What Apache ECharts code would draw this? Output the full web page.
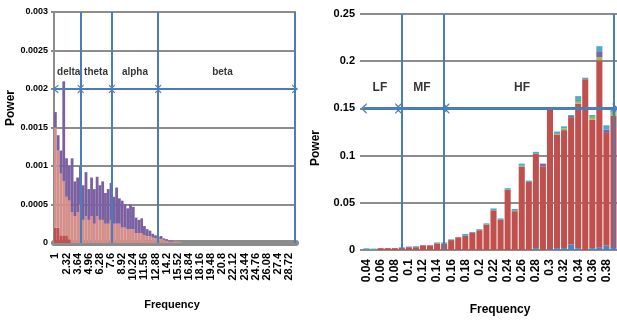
<!DOCTYPE html>
<html>
<head>
<meta charset="utf-8">
<script src="https://cdn.jsdelivr.net/npm/echarts@6/dist/echarts.min.js"></script>
<style>
  html, body { margin: 0; padding: 0; background: #fff; }
  #chart { width: 617px; height: 320px; }
</style>
</head>
<body>
<div id="chart"></div>
<script>
// left chart: EEG power spectrum (stacked, many epochs)
const freqLeft = [
  1, 1.33, 1.66, 1.99, 2.32, 2.65, 2.98, 3.31, 3.64, 3.97, 4.3, 4.63,
  4.96, 5.29, 5.62, 5.95, 6.28, 6.61, 6.94, 7.27, 7.6, 7.93, 8.26, 8.59,
  8.92, 9.25, 9.58, 9.91, 10.24, 10.57, 10.9, 11.23, 11.56, 11.89, 12.22, 12.55,
  12.88, 13.21, 13.54, 13.87, 14.2, 14.53, 14.86, 15.19, 15.52, 15.85, 16.18, 16.51,
  16.84, 17.17, 17.5, 17.83, 18.16, 18.49, 18.82, 19.15, 19.48, 19.81, 20.14, 20.47,
  20.8, 21.13, 21.46, 21.79, 22.12, 22.45, 22.78, 23.11, 23.44, 23.77, 24.1, 24.43,
  24.76, 25.09, 25.42, 25.75, 26.08, 26.41, 26.74, 27.07, 27.4, 27.73, 28.06, 28.39,
  28.72, 29.05, 29.38
]
const redLeft = [0.0002, 0.0002, 0.0001, 0.0001, 0.0001, 0.00005]
const pinkLeft = [
  0.0013, 0.0010, 0.0008, 0.0007, 0.0005, 0.0005, 0.0004, 0.00035, 0.0004, 0.0005,
  0.0003, 0.00035, 0.0003, 0.00035, 0.00025, 0.00035, 0.0003, 0.0003, 0.00025, 0.00025,
  0.0003, 0.00025, 0.00025, 0.00025, 0.0002, 0.0002, 0.00018, 0.00018, 0.00018, 0.00013,
  0.00013, 0.00013, 0.0001, 0.00009, 0.00009, 0.00007, 0.00006, 0.00005, 0.00005, 0.00004,
  0.00003, 0.00002, 0.00002, 0.00002, 0.00002, 0.00001
]
const purpleLeft = [
  0.0002, 0.0002, 0.0003, 0.0013, 0.0005, 0.00045, 0.0007, 0.00045, 0.00045, 0.0005,
  0.00045, 0.00057, 0.0004, 0.0005, 0.00045, 0.00051, 0.00045, 0.0005, 0.0004, 0.00045,
  0.00048, 0.00035, 0.00047, 0.00033, 0.00035, 0.0003, 0.00027, 0.00032, 0.00029, 0.0002,
  0.00017, 0.00019, 0.00012, 0.00009, 0.00007, 0.00005, 0.00004, 0.00003, 0.00004, 0.00002,
  0.00002, 0.00001, 0.00001
]
const bandsLeft = ['delta', 'theta', 'alpha', 'beta']
const bandEdgesLeft = [1, 4, 7.7, 13.2, 29.45]
const bandLabelXLeft = [2.58, 5.82, 10.44, 20.82]

// right chart: HRV power spectrum
const freqRight = [
  0.04, 0.05, 0.06, 0.07, 0.08, 0.09, 0.1, 0.11, 0.12, 0.13, 0.14, 0.15,
  0.16, 0.17, 0.18, 0.19, 0.2, 0.21, 0.22, 0.23, 0.24, 0.25, 0.26, 0.27,
  0.28, 0.29, 0.3, 0.31, 0.32, 0.33, 0.34, 0.35, 0.36, 0.37, 0.38, 0.39
]
const blueRight = [
  0, 0, 0, 0, 0, 0, 0, 0, 0, 0, 0, 0, 0, 0, 0, 0, 0, 0, 0, 0, 0, 0, 0, 0,
  0.002, 0, 0.001, 0.002, 0.002, 0.006, 0.002, 0, 0.002, 0.003, 0.005, 0.002
]
const redRight = [
  0.0005, 0, 0.002, 0.002, 0.002, 0.0025, 0.003, 0.003, 0.005, 0.005, 0.007, 0.007,
  0.0105, 0.0135, 0.015, 0.018, 0.021, 0.027, 0.042, 0.032, 0.064, 0.041, 0.088, 0.072,
  0.1, 0.0885, 0.148, 0.12, 0.125, 0.134, 0.153, 0.181, 0.136, 0.198, 0.119, 0.14
]
const greenRight = [
  0, 0, 0, 0, 0, 0, 0, 0, 0, 0, 0, 0, 0, 0, 0, 0, 0, 0, 0, 0, 0, 0, 0.001, 0,
  0, 0, 0, 0.001, 0.002, 0, 0.003, 0, 0.003, 0.0032, 0, 0.004
]
const purpleRight = [
  0, 0, 0, 0, 0, 0, 0, 0, 0, 0, 0, 0, 0, 0, 0, 0, 0, 0, 0, 0, 0, 0.001, 0.0005, 0,
  0, 0.003, 0.0015, 0, 0, 0.002, 0.001, 0, 0, 0.0064, 0.0035, 0.001
]
const cyanRight = [
  0.0013, 0.0015, 0, 0, 0, 0.0005, 0.0007, 0.001, 0, 0, 0.001, 0.001,
  0.0008, 0, 0.002, 0.001, 0.001, 0.0012, 0.002, 0.0015, 0.0015, 0.0015, 0.002, 0.0015,
  0.002, 0, 0, 0.0025, 0.002, 0.001, 0.004, 0.0015, 0.002, 0.0053, 0.0046, 0.0046
]
const bandsRight = ['LF', 'MF', 'HF']
const bandEdgesRight = [0.036, 0.085, 0.153, 0.393]
const bandLabelXRight = [0.059, 0.1186, 0.2603]

const FONT = '"Liberation Sans", Arial, sans-serif'
const GRAY = '#8c8c8c'
const BLUE = '#4a7ebb'
const CHEVRON = 'path://M0,10L5,0L10,10L8.4,10L5,3.2L1.6,10Z'

function bandMarks (edges, y, size, width) {
  let data = []
  for (let i = 1; i < edges.length; i++) {
    data.push({xAxis: edges[i]})
  }
  for (let i = 0; i < edges.length - 1; i++) {
    data.push([
      {coord: [edges[i], y], symbol: CHEVRON, symbolSize: size, lineStyle: {width: width}},
      {coord: [edges[i + 1], y], symbol: CHEVRON, symbolSize: size}
    ])
  }
  return data
}

function bandLabels (names, xs, y) {
  return names.map((n, i) => ({name: n, value: [xs[i], y]}))
}

let myChart = echarts.init(document.getElementById('chart'), null, {renderer: 'canvas'})
myChart.setOption({
  animation: false,
  textStyle: {fontFamily: FONT},
  grid: [
    {left: 54, top: 12, width: 242, height: 231},
    {left: 363, top: 14, right: 0, height: 236}
  ],
  xAxis: [
    {
      type: 'category',
      gridIndex: 0,
      data: freqLeft,
      offset: 3,
      axisLine: {lineStyle: {color: GRAY, width: 6}},
      axisTick: {show: false},
      axisLabel: {rotate: 90, interval: 3, margin: 7, fontSize: 11, fontWeight: 'bold', color: '#000', fontFamily: FONT}
    },
    {type: 'value', gridIndex: 0, min: 0.835, max: 29.545, show: false},
    {
      type: 'category',
      gridIndex: 1,
      data: freqRight,
      axisLine: {lineStyle: {color: GRAY, width: 2}},
      axisTick: {show: false},
      axisLabel: {rotate: 90, interval: 1, margin: 9, fontSize: 12, fontWeight: 'bold', color: '#000', fontFamily: FONT}
    },
    {type: 'value', gridIndex: 1, min: 0.035, max: 0.395, show: false}
  ],
  yAxis: [
    {
      type: 'value',
      gridIndex: 0,
      min: 0,
      max: 0.003,
      interval: 0.0005,
      axisLine: {show: true, lineStyle: {color: GRAY, width: 2}},
      axisTick: {show: true, length: 3, lineStyle: {color: GRAY, width: 2}},
      splitLine: {lineStyle: {color: GRAY, width: 2}},
      axisLabel: {margin: 6, fontSize: 9, fontWeight: 'bold', color: '#000', fontFamily: FONT}
    },
    {
      type: 'value',
      gridIndex: 1,
      min: 0,
      max: 0.25,
      interval: 0.05,
      axisLine: {show: false},
      axisTick: {show: true, length: 3, lineStyle: {color: GRAY, width: 2}},
      splitLine: {lineStyle: {color: GRAY, width: 2}},
      axisLabel: {margin: 8, fontSize: 11, fontWeight: 'bold', color: '#000', fontFamily: FONT}
    }
  ],
  graphic: [
    {type: 'text', x: 11, y: 108, rotation: Math.PI / 2, style: {text: 'Power', fill: '#000', font: 'bold 12px ' + FONT, align: 'center', verticalAlign: 'middle'}},
    {type: 'text', x: 316, y: 148, rotation: Math.PI / 2, style: {text: 'Power', fill: '#000', font: 'bold 12px ' + FONT, align: 'center', verticalAlign: 'middle'}},
    {type: 'text', x: 172, y: 305, style: {text: 'Frequency', fill: '#000', font: 'bold 11px ' + FONT, align: 'center', verticalAlign: 'middle'}},
    {type: 'text', x: 500, y: 310, style: {text: 'Frequency', fill: '#000', font: 'bold 12px ' + FONT, align: 'center', verticalAlign: 'middle'}}
  ],
  series: [
    {name: 'red', type: 'bar', stack: 'l', xAxisIndex: 0, yAxisIndex: 0, barCategoryGap: 0, itemStyle: {color: '#c0504d'}, data: redLeft},
    {name: 'pink', type: 'bar', stack: 'l', xAxisIndex: 0, yAxisIndex: 0, barCategoryGap: 0, itemStyle: {color: '#d48f8a'}, data: pinkLeft},
    {name: 'purple', type: 'bar', stack: 'l', xAxisIndex: 0, yAxisIndex: 0, barCategoryGap: 0, itemStyle: {color: '#7a60a0'}, data: purpleLeft},
    {
      type: 'scatter',
      xAxisIndex: 1,
      yAxisIndex: 0,
      symbolSize: 1,
      silent: true,
      itemStyle: {color: 'transparent'},
      label: {show: true, position: 'inside', formatter: '{b}', fontSize: 10, fontWeight: 'bold', color: '#000', fontFamily: FONT},
      data: bandLabels(bandsLeft, bandLabelXLeft, 0.00222),
      markLine: {
        silent: true,
        symbol: 'none',
        label: {show: false},
        lineStyle: {color: BLUE, width: 2, type: 'solid'},
        data: bandMarks(bandEdgesLeft, 0.002, [9, 6], 2)
      }
    },
    {name: 'b', type: 'bar', stack: 'r', xAxisIndex: 2, yAxisIndex: 1, barCategoryGap: '14%', itemStyle: {color: '#4f81bd'}, data: blueRight},
    {name: 'r', type: 'bar', stack: 'r', xAxisIndex: 2, yAxisIndex: 1, barCategoryGap: '14%', itemStyle: {color: '#c0504d'}, data: redRight},
    {name: 'g', type: 'bar', stack: 'r', xAxisIndex: 2, yAxisIndex: 1, barCategoryGap: '14%', itemStyle: {color: '#9bbb59'}, data: greenRight},
    {name: 'p', type: 'bar', stack: 'r', xAxisIndex: 2, yAxisIndex: 1, barCategoryGap: '14%', itemStyle: {color: '#8064a2'}, data: purpleRight},
    {name: 'c', type: 'bar', stack: 'r', xAxisIndex: 2, yAxisIndex: 1, barCategoryGap: '14%', itemStyle: {color: '#4bacc6'}, data: cyanRight},
    {
      type: 'scatter',
      xAxisIndex: 3,
      yAxisIndex: 1,
      symbolSize: 1,
      silent: true,
      z: 5,
      itemStyle: {color: 'transparent'},
      label: {show: true, position: 'inside', formatter: '{b}', fontSize: 12, fontWeight: 'bold', color: '#000', fontFamily: FONT},
      data: bandLabels(bandsRight, bandLabelXRight, 0.1716),
      markLine: {
        silent: true,
        symbol: 'none',
        label: {show: false},
        lineStyle: {color: BLUE, width: 2, type: 'solid'},
        data: bandMarks(bandEdgesRight, 0.15, [11, 6], 3)
      }
    }
  ]
})
</script>
</body>
</html>
